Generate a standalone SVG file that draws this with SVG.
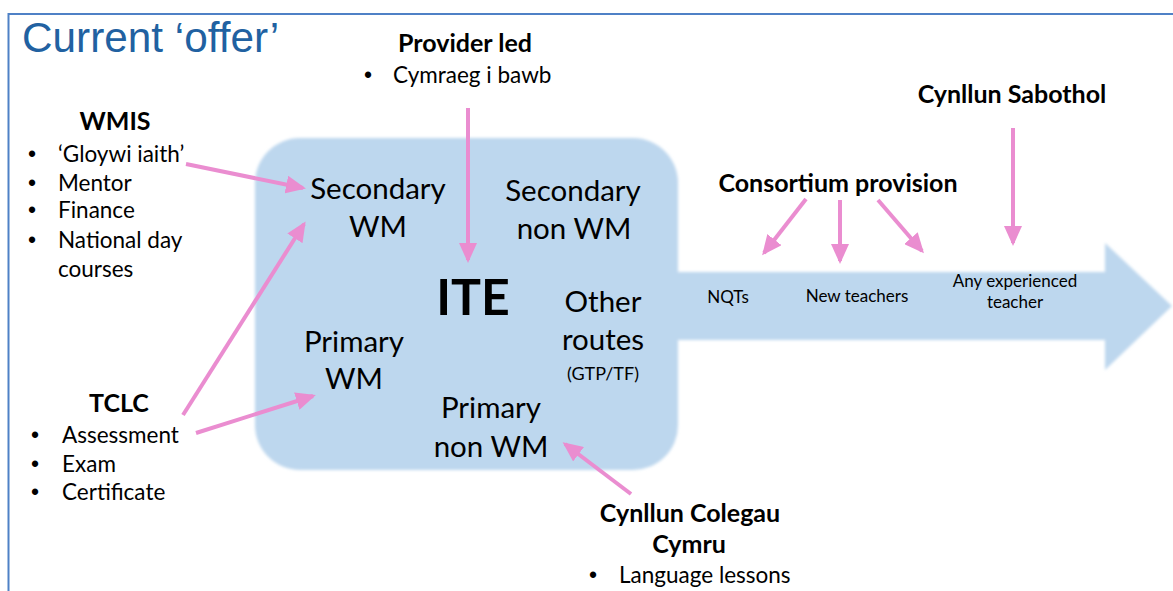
<svg xmlns="http://www.w3.org/2000/svg" width="1173" height="591" viewBox="0 0 1173 591">
<style>
.t{font-family:Lato,"Liberation Sans",sans-serif;fill:#000}
.b{font-weight:bold}
.m{text-anchor:middle}
.box{font-size:29.5px}
.lst{font-size:22.5px}
.bul{font-size:23px;font-family:"Liberation Sans",Arial,sans-serif}
.hd{font-size:25px;font-weight:bold}
.sm{font-size:17px}
.con line{stroke:#EA8DD0;stroke-width:4;marker-end:url(#ah)}
</style>
<defs>
<marker id="ah" markerUnits="userSpaceOnUse" markerWidth="20" markerHeight="18" viewBox="0 0 20 18" refX="17" refY="9" orient="auto">
<path d="M0,0 L20,9 L0,18 z" fill="#EA8DD0"/>
</marker>
<filter id="soft" x="-5%" y="-5%" width="110%" height="110%"><feGaussianBlur stdDeviation="1.5"/></filter>
</defs>
<rect width="1173" height="591" fill="#fff"/>
<path d="M8.5,600 V14 H1180" fill="none" stroke="#4F81C6" stroke-width="2"/>
<text x="22" y="52" font-family="Liberation Sans,Arial,sans-serif" font-size="42.3" fill="#2161A1">Current ‘offer’</text>

<g id="ite-shape" filter="url(#soft)" fill="#BDD7EE">
<rect x="255" y="138" width="423" height="332" rx="45" ry="45"/>
<path d="M670,272 H1105 V243 L1172,306 L1105,370 V340 H670 z"/>
</g>

<g id="ite" class="t">
<text x="473" y="315" class="m b" font-size="50">ITE</text>
<text x="378" y="199" class="m box">Secondary</text>
<text x="378" y="237" class="m box">WM</text>
<text x="573" y="201" class="m box">Secondary</text>
<text x="574" y="239" class="m box">non WM</text>
<text x="603" y="312" class="m box">Other</text>
<text x="603" y="350" class="m box">routes</text>
<text x="603" y="380" class="m" font-size="18">(GTP/TF)</text>
<text x="354" y="352" class="m box">Primary</text>
<text x="354" y="389" class="m box">WM</text>
<text x="491" y="418" class="m box">Primary</text>
<text x="491" y="457" class="m box">non WM</text>
</g>

<g id="arrow-labels" class="t sm">
<text x="728" y="303" class="m">NQTs</text>
<text x="857" y="302" class="m">New teachers</text>
<text x="1015" y="287" class="m">Any experienced</text>
<text x="1015" y="308" class="m">teacher</text>
</g>

<g id="provider" class="t">
<text x="465" y="52" class="m hd">Provider led</text>
<text x="364" y="83" class="bul">•</text>
<text x="393" y="83" class="lst">Cymraeg i bawb</text>
</g>

<g id="wmis" class="t lst">
<text x="115" y="130" class="m hd">WMIS</text>
<text x="28" y="162" class="bul">•</text><text x="58" y="162">‘Gloywi iaith’</text>
<text x="28" y="191" class="bul">•</text><text x="58" y="191">Mentor</text>
<text x="28" y="218" class="bul">•</text><text x="58" y="218">Finance</text>
<text x="28" y="248" class="bul">•</text><text x="58" y="248">National day</text>
<text x="58" y="277">courses</text>
</g>

<g id="tclc" class="t lst">
<text x="119" y="412" class="m hd">TCLC</text>
<text x="31" y="443" class="bul">•</text><text x="62" y="443">Assessment</text>
<text x="31" y="472" class="bul">•</text><text x="62" y="472">Exam</text>
<text x="31" y="500" class="bul">•</text><text x="62" y="500">Certificate</text>
</g>

<g id="colegau" class="t">
<text x="690" y="522" class="m hd">Cynllun Colegau</text>
<text x="689" y="553" class="m hd">Cymru</text>
<text x="589" y="583" class="bul">•</text>
<text x="619" y="583" class="lst">Language lessons</text>
</g>

<g id="consortium" class="t">
<text x="838" y="192" class="m hd">Consortium provision</text>
</g>

<g id="sabothol" class="t">
<text x="1012" y="103" class="m hd">Cynllun Sabothol</text>
</g>

<g id="connectors" class="con">
<line x1="186" y1="164" x2="303" y2="188"/>
<line x1="183" y1="415" x2="304" y2="224"/>
<line x1="196" y1="433" x2="313" y2="396"/>
<line x1="468" y1="108" x2="468" y2="260"/>
<line x1="631" y1="494" x2="565" y2="444"/>
<line x1="806" y1="199" x2="764" y2="253"/>
<line x1="840" y1="200" x2="840" y2="261"/>
<line x1="878" y1="200" x2="922" y2="251"/>
<line x1="1013" y1="128" x2="1013" y2="243"/>
</g>
</svg>
